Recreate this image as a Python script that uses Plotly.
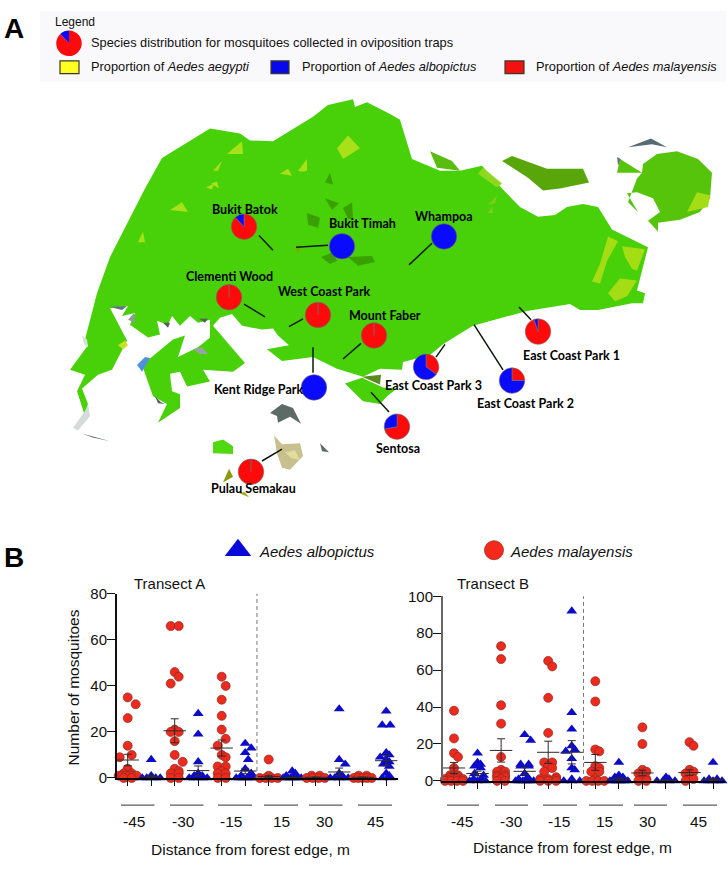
import plotly.graph_objects as go

W, H = 728, 869

# ---------- map outlines (page pixels) ----------
MAIN_ISLAND = [(85,337),(97,290),(110,253),(145,183),(162,152),(210,122),(240,127),(250,134),(273,135),(313,110),(328,98),(353,92),(355,100),(367,95),(390,107),(400,113),(412,153),(430,161),(440,165),(460,165),(482,160),(502,183),(520,202),(538,212),(555,210),(567,202),(583,199),(598,202),(612,225),(648,243),(637,287),(645,290),(643,300),(632,300),(598,307),(580,307),(570,301),(527,308),(490,318),(473,323),(457,333),(443,342),(430,353),(403,360),(402,368),(380,367),(363,375),(337,367),(313,355),(282,359),(267,347),(289,343),(278,333),(273,326),(262,327),(242,323),(232,311),(220,315),(213,323),(245,361),(233,370),(203,368),(210,380),(187,385),(180,370),(170,372),(172,390),(180,393),(180,407),(158,422),(167,403),(153,395),(142,363),(173,337),(185,333),(178,355),(198,345),(210,335),(210,317),(198,320),(190,313),(180,323),(172,313),(168,322),(157,318),(160,332),(148,335),(130,322),(135,310),(122,313),(128,303),(110,305),(127,338),(112,368),(98,373),(82,387),(88,403),(85,415),(77,390),(85,373),(70,368),(88,343)]
TEKONG = [(643,158),(657,148),(677,145),(698,153),(712,167),(710,193),(700,207),(680,215),(658,218),(658,227),(648,216),(660,207),(653,193),(637,187),(627,188),(638,207),(628,197),(637,173),(642,167),(620,153),(617,167),(642,167)]
UBIN = [(502,155),(512,150),(547,163),(583,163),(589,177),(560,183),(543,185),(528,172)]
STRIP = [(430,145),(452,155),(460,165),(437,162)]
SENTOSA = [(345,382),(362,376),(383,386),(397,387),(387,395),(380,403),(363,400)]
PATCHES = [
    ("#5d6b66", [(270,412),(282,403),(293,407),(301,423),(290,416),(278,422),(277,415)]),
    ("#7d8a86", [(253,406),(260,412),(255,408)]),
    ("#5d6b66", [(320,443),(329,452),(322,451)]),
    ("#c9c08f", [(274,435),(282,444),(300,443),(303,456),(290,470),(282,468),(277,453)]),
    ("#e0de9a", [(285,452),(295,450),(300,460),(291,458)]),
    ("#50d810", [(213,442),(223,439),(233,446),(233,454),(213,453)]),
    ("#8a9a10", [(223,483),(229,469),(233,477)]),
    ("#a8a820", [(237,493),(245,493),(249,498)]),
    ("#5a6b70", [(628,141),(651,132),(667,141),(652,138)]),
    ("#4d5a5a", [(82,433),(110,441),(93,437)]),
    ("#d3dbdb", [(73,427),(85,410),(88,403),(90,415),(78,430)]),
    ("#d3e3d3", [(82,333),(87,337),(88,345),(84,342)]),
    ("#5090e0", [(137,363),(145,355),(150,356),(142,370)]),
    ("#607080", [(110,304),(127,303),(122,307)]),
    ("#8f9a9a", [(128,317),(134,310),(135,320)]),
    ("#c8e020", [(118,343),(125,338),(128,343),(123,347)]),
    ("#9aa3a3", [(193,347),(202,345),(208,352),(200,352)]),
    ("#55605a", [(163,320),(170,320),(168,325)]),
    ("#55605a", [(199,316),(208,316),(205,320)]),
    ("#55605a", [(155,395),(161,401),(165,403),(158,402)]),
    ("#6a7a7a", [(617,151),(621,153),(618,160)]),
    ("#5a8a20", [(362,375),(381,373),(380,383),(365,377)]),
    ("#a8e01a", [(227,148),(242,135),(243,148)]),
    ("#a8e01a", [(213,165),(222,155),(218,165)]),
    ("#a8e01a", [(170,205),(182,197),(188,207)]),
    ("#a8e01a", [(138,238),(143,227),(145,238)]),
    ("#a8e01a", [(280,168),(288,163),(292,170)]),
    ("#a8e01a", [(298,165),(307,153),(307,165),(302,166)]),
    ("#a8e01a", [(337,142),(348,129),(360,142),(343,153)]),
    ("#a8e01a", [(211,178),(217,176),(219,183)]),
    ("#a8e01a", [(206,182),(214,178),(212,184)]),
    ("#38a000", [(325,177),(330,167),(333,179)]),
    ("#38a000", [(325,193),(339,198),(332,205)]),
    ("#38a000", [(343,203),(352,197),(353,215),(348,214)]),
    ("#38a000", [(307,208),(320,213),(318,223),(308,220)]),
    ("#38a000", [(321,253),(333,248),(337,257),(330,260)]),
    ("#38a000", [(348,253),(372,252),(375,258),(358,262)]),
    ("#90a000", [(296,243),(300,243),(298,250)]),
    ("#a5dd14", [(608,232),(618,237),(607,257),(600,280),(592,278),(600,260)]),
    ("#a5dd14", [(622,242),(645,245),(637,267),(632,265),(625,253)]),
    ("#a5dd14", [(620,275),(637,277),(627,293),(615,298),(608,290)]),
    ("#a5dd14", [(697,187),(710,190),(708,202),(687,207)]),
    ("#90d820", [(478,168),(483,162),(502,178),(497,182)]),
    ("#7ccf1c", [(488,200),(497,190),(495,198)]),
    ("#7ccf1c", [(488,208),(492,201),(493,208)]),
]

# ---------- sampling sites ----------
SITE_NAMES = ["Bukit Batok","Bukit Timah","Whampoa","Clementi Wood","West Coast Park","Mount Faber","Kent Ridge Park","East Coast Park 1","East Coast Park 2","East Coast Park 3","Sentosa","Pulau Semakau"]
SITE_MAL = [88,0,0,100,100,100,0,95,25,35,72,100]
SITE_ALB = [12,100,100,0,0,0,100,5,75,65,28,0]
SITE_X = [244,342,444,229,318,374,314,538,512,426,397,251]
SITE_Y = [222,242,232,294,312,333,386,329,379,365,426,472]
LABEL_X = [245,362,444,229,324,385,258,571,525,433,398,253]
LABEL_Y = [204,219,212,273,288,313,388,353,402,384,448,489]
LEADERS = [[(259,231),(273,246)],[(296,243),(328,241)],[(432,239),(409,261)],[(244,301),(265,314)],[(303,316),(289,324)],[(361,341),(343,357)],[(313,345),(313,371)],[(531,317),(519,304)],[(503,368),(474,322)],[(436,355),(445,342)],[(389,411),(371,391)],[(262,461),(282,449)]]

# ---------- transect data ----------
DIST = ["-45","-30","-15","15","30","45"]
A_MAL = [
 [35,32,26,14,10,9,4,2,2,1,1,1,1,1,1,0,0],
 [66,66,46,44,41,21,20,20,16,10,7,4,3,2,2,0,0],
 [44,40,34,27,21,17,14,10,9,5,5,3,2,2,0,0],
 [8,1,0,0,0,0],
 [1,1,0,0,0,0],
 [1,1,0,0,0,0,0],
]
A_ALB = [
 [8,1,0,0,0,0,0],
 [28,19,7,2,1,1,0,0,0,0,0],
 [15,13,11,8,4,2,1,1,0,0,0,0,0,0],
 [3,2,1,0,0,0,0,0,0],
 [30,8,6,2,1,0,0,0,0,0],
 [29,23,23,11,10,9,8,7,6,5,2,1,0,0],
]
A_MAL_MEAN = [7.8,20.5,13,0.6,0.3,0.3]
A_MAL_SEM = [2.5,5.2,3.5,0.4,0.1,0.1]
A_ALB_MEAN = [0.6,3.2,3,0.3,2.6,7.5]
A_ALB_SEM = [0.5,2,1.2,0.15,1.7,2.2]
B_MAL = [
 [38,23,15,13,7,3,3,2,2,1,1,1,1,0,0,0,0],
 [73,66,41,31,13,6,5,5,3,3,2,2,1,0,0],
 [65,62,45,26,10,10,8,7,5,2,1,1,1,0,0,0],
 [54,43,17,16,8,7,5,5,1,0,0,0,0],
 [29,20,6,5,4,3,1,0,0],
 [21,19,6,5,4,3,1,0],
]
B_ALB = [
 [15,10,9,8,7,4,3,1,1,0,0,0],
 [25,22,9,9,8,8,4,2,1,0,0,0,0,0,0],
 [92,37,28,19,17,16,12,7,6,1,0,0,0],
 [10,3,2,2,1,1,0,0,0,0,0,0],
 [2,1,0,0,0,0],
 [10,1,1,0,0,0,0,0],
]
B_MAL_MEAN = [7,16.5,15.5,10,4.3,4.5]
B_MAL_SEM = [3,6.3,6,4.3,1.5,1.5]
B_ALB_MEAN = [4,5.2,15.5,1,0.3,0.8]
B_ALB_SEM = [1.3,2,6.3,0.7,0.2,0.6]

RED, BLUE = "#ff0a0a", "#0a0aff"
DOT, TRI = "#ec2a1e", "#0c0cc8"
SANS = "Liberation Sans"

def px_x(x): return x / W
def px_y(y): return 1 - y / H

def swarm(values, px_per_unit, D=8.0, maxoff=9.0, clear=10.0):
    """Lay values out sideways so that markers overlap as little as they can (offsets in px)."""
    placed = []
    out = []
    cands = [0, D/2, -D/2, D, -D]
    def gap(c, v):
        return min([((c - o)**2 + ((v - w) * px_per_unit)**2)**0.5 for o, w in placed] or [99])
    for v in sorted(set(values), reverse=True):
        n = values.count(v)
        if n > 1:
            step = min(8.0, 2 * maxoff / (n - 1))
            offs = [(k - (n - 1) / 2) * step for k in range(n)]
        else:
            fit = [c for c in cands if gap(c, v) >= clear]
            offs = [fit[0]] if fit else [max(cands[:3], key=lambda c: gap(c, v))]
        for o in offs:
            placed.append((o, v))
            out.append((o, v))
    return out

fig = go.Figure()

def poly(pts, color):
    fig.add_trace(go.Scatter(x=[p[0] for p in pts]+[pts[0][0]], y=[p[1] for p in pts]+[pts[0][1]], mode="lines",
                             fill="toself", fillcolor=color, line=dict(width=0, color=color),
                             hoverinfo="skip", showlegend=False, xaxis="x", yaxis="y"))

poly(MAIN_ISLAND, "#48d008")
poly(TEKONG, "#56c40a")
poly(UBIN, "#58a60a")
poly(STRIP, "#5abc0e")
poly(SENTOSA, "#48d008")
for color, pts in PATCHES:
    poly(color=color, pts=pts)

for seg in LEADERS:
    fig.add_trace(go.Scatter(x=[p[0] for p in seg], y=[p[1] for p in seg], mode="lines",
                             line=dict(color="#0a1a0a", width=1.5), hoverinfo="skip", showlegend=False, xaxis="x", yaxis="y"))

R = 13
for name, m, a, cx, cy in zip(SITE_NAMES, SITE_MAL, SITE_ALB, SITE_X, SITE_Y):
    fig.add_trace(go.Pie(values=[m, a], labels=["Aedes malayensis", "Aedes albopictus"], name=name, sort=False,
                         direction="clockwise", rotation=0, textinfo="none", showlegend=False,
                         marker=dict(colors=[RED, BLUE], line=dict(color="#7a6a6a", width=0.6)),
                         domain=dict(x=[px_x(cx-R), px_x(cx+R)], y=[px_y(cy+R), px_y(cy-R)])))
# legend pie
fig.add_trace(go.Pie(values=[88, 12], labels=["Aedes malayensis", "Aedes albopictus"], sort=False, direction="clockwise",
                     rotation=0, textinfo="none", showlegend=False, marker=dict(colors=[RED, BLUE], line=dict(width=0)),
                     domain=dict(x=[px_x(69-13), px_x(69+13)], y=[px_y(35+13), px_y(35-13)])))

def panel(mal, alb, mal_m, mal_s, alb_m, alb_s, xa, ya, ppu, spacing, ymax):
    for i in range(6):
        for vals, kind in ((mal[i], "m"), (alb[i], "a")):
            base = 2*i + (0 if kind == "m" else 1)
            sw = swarm(vals, ppu) if kind == "m" else swarm(vals, ppu, D=6.0, clear=7.5)
            fig.add_trace(go.Scatter(
                x=[base + o/spacing for o, _ in sw], y=[v for _, v in sw], mode="markers", cliponaxis=False,
                marker=dict(symbol="circle", size=9, color=DOT, line=dict(color="#8a2a20", width=0.7)) if kind == "m"
                else dict(symbol="triangle-up", size=9.5, color=TRI, line=dict(color=TRI, width=0)),
                hoverinfo="y", showlegend=False, xaxis=xa, yaxis=ya))
    xs = list(range(12))
    means = [v for p in zip(mal_m, alb_m) for v in p]
    sems = [v for p in zip(mal_s, alb_s) for v in p]
    fig.add_trace(go.Scatter(x=xs, y=means, mode="markers", cliponaxis=False,
                             marker=dict(symbol="line-ew", size=16, line=dict(color="#302a2a", width=1)),
                             error_y=dict(type="data", array=sems, visible=True, color="#302a2a", thickness=1, width=4),
                             hoverinfo="y", showlegend=False, xaxis=xa, yaxis=ya))
    fig.add_trace(go.Scatter(x=[5.5, 5.5], y=[0, ymax*1.012], mode="lines", cliponaxis=False,
                             line=dict(color="#777777", width=1, dash="4px,3px"),
                             hoverinfo="skip", showlegend=False, xaxis=xa, yaxis=ya))

panel(A_MAL, A_ALB, A_MAL_MEAN, A_MAL_SEM, A_ALB_MEAN, A_ALB_SEM, "x2", "y2", 2.35, 23.5, 80)
panel(B_MAL, B_ALB, B_MAL_MEAN, B_MAL_SEM, B_ALB_MEAN, B_ALB_SEM, "x3", "y3", 1.88, 23.55, 100)

# species key above panel B
fig.add_trace(go.Scatter(x=[238], y=[552], mode="markers", marker=dict(symbol="triangle-up", size=23, color="#0808d8"),
                         hoverinfo="skip", showlegend=False, xaxis="x", yaxis="y"))
fig.add_trace(go.Scatter(x=[494], y=[552], mode="markers", marker=dict(symbol="circle", size=19, color="#f5281c", line=dict(color="#a03028", width=0.8)),
                         hoverinfo="skip", showlegend=False, xaxis="x", yaxis="y"))

# group rules under the axes
GROUP_A = [(121,154.5),(170,203.5),(218,252),(264,298),(309,342.5),(358,392)]
GROUP_B = [(447,479),(495,528),(543,577),(589,623),(634,667),(683,717)]
LABX_A = [134,183,231,281,325,375]
LABX_B = [462,511,559,604,648,698]
shapes = [dict(type="rect", xref="x", yref="y", x0=40, x1=726, y0=2, y1=74, fillcolor="#f9f8fb", line=dict(width=0), layer="below")]
for x0, x1, col in ((60,79,"#ffff22"),(271,289,"#0808ee"),(505,524,"#f21010")):
    shapes.append(dict(type="rect", xref="x", yref="y", x0=x0, x1=x1, y0=53, y1=66, fillcolor=col, line=dict(color="#3a3a2a", width=1.2)))
for x0, x1 in GROUP_A + GROUP_B:
    shapes.append(dict(type="line", xref="x", yref="y", x0=x0, x1=x1, y0=812, y1=812, line=dict(color="#333333", width=1)))

def note(x, y, text, size=15, family=SANS, color="#111111", anchor="center", weight=None, angle=0):
    font = dict(size=size, family=family, color=color)
    if weight: font["weight"] = weight
    return dict(x=x, y=y, xref="x", yref="y", text=text, showarrow=False, xanchor=anchor, yanchor="middle", font=font, textangle=angle)

ann = []
for name, x, y in zip(SITE_NAMES, LABEL_X, LABEL_Y):
    ann.append(note(x, y, name, size=12.5, family="Lato", color="#000000", weight=700))
ann += [
    note(2, 20, "A", size=28, anchor="left", weight=700, color="#000000"),
    note(2, 559, "B", size=28, anchor="left", weight=700, color="#000000"),
    note(53, 13, "Legend", size=12, anchor="left"),
    note(89, 34, "Species distribution for mosquitoes collected in oviposition traps", size=12.8, anchor="left"),
    note(89, 59, "Proportion of <i>Aedes aegypti</i>", size=12.8, anchor="left"),
    note(300, 59, "Proportion of <i>Aedes albopictus</i>", size=12.8, anchor="left"),
    note(534, 59, "Proportion of <i>Aedes malayensis</i>", size=12.8, anchor="left"),
    note(257, 553, "<i>Aedes albopictus</i>", size=15, anchor="left"),
    note(508, 553, "<i>Aedes malayensis</i>", size=15, anchor="left"),
    note(132, 586, "Transect A", size=15, anchor="left"),
    note(455, 586, "Transect B", size=15, anchor="left"),
    note(73, 692, "Number of mosquitoes", size=15.5, angle=-90),
    note(250, 857, "Distance from forest edge, m", size=15.5),
    note(572, 855, "Distance from forest edge, m", size=15.5),
]
for lab, xa, xb in zip(DIST, LABX_A, LABX_B):
    ann.append(note(xa, 829, lab, size=15.5))
    ann.append(note(xb, 829, lab, size=15.5))

def val_axis(dom, tickvals, rng, anchor, color):
    return dict(domain=dom, range=rng, tickvals=tickvals, ticks="outside", ticklen=8, tickwidth=1.3, tickcolor="#111111",
                showline=True, linecolor=color, linewidth=2, showgrid=False, zeroline=False, anchor=anchor, ticklabelstandoff=-3,
                tickfont=dict(family=SANS, size=15, color="#111111"))

def cat_axis(dom, rng, anchor):
    return dict(domain=dom, range=rng, tickvals=list(range(12)), showticklabels=False, ticks="outside", ticklen=6, tickwidth=1, tickcolor="#111111",
                showline=True, linecolor="#000000", linewidth=1.6, showgrid=False, zeroline=False, anchor=anchor)

fig.update_layout(
    width=W, height=H, autosize=False, margin=dict(l=0, r=0, t=0, b=0),
    paper_bgcolor="white", plot_bgcolor="rgba(0,0,0,0)", showlegend=False,
    shapes=shapes, annotations=ann,
    xaxis=dict(domain=[0,1], range=[0,W], visible=False, fixedrange=True),
    yaxis=dict(domain=[0,1], range=[H,0], visible=False, fixedrange=True),
    xaxis2=cat_axis([px_x(117), px_x(398)], [(117-127.7)/23.5, (398-127.7)/23.5], "y2"),
    yaxis2=val_axis([px_y(784.3), px_y(596.5)], [0,20,40,60,80], [0,80], "x2", "#111111"),
    xaxis3=cat_axis([px_x(443), px_x(725)], [(443-454)/23.55, (725-454)/23.55], "y3"),
    yaxis3=val_axis([px_y(787.3), px_y(599)], [0,20,40,60,80,100], [0,100], "x3", "#666666"),
)
fig.write_html("out.html", config=dict(displayModeBar=False),
               post_script="document.documentElement.style.margin='0';document.body.style.margin='0';document.body.style.overflow='hidden';")
